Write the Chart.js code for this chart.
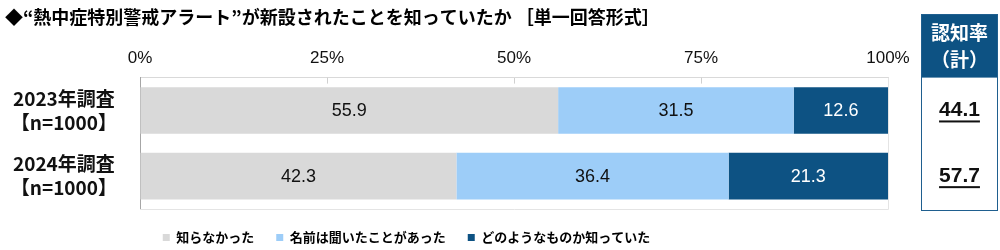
<!DOCTYPE html>
<html>
<head>
<meta charset="utf-8">
<script src="https://cdn.jsdelivr.net/npm/chart.js@4"></script>
<style>
  body { margin: 0; background: #fff; }
  #wrap { width: 1000px; height: 250px; }
</style>
</head>
<body>
<div id="wrap"><canvas id="chart" width="1000" height="250"></canvas></div>
<script>
const title = '◆“熱中症特別警戒アラート”が新設されたことを知っていたか ［単一回答形式］';
const years = [['2023年調査', '【n=1000】'], ['2024年調査', '【n=1000】']];
const seriesNames = ['知らなかった', '名前は聞いたことがあった', 'どのようなものか知っていた'];
const notKnown = [55.9, 42.3];
const heardName = [31.5, 36.4];
const knewWhat = [12.6, 21.3];
const awareness = [44.1, 57.7];
const panelHeader = ['認知率', '（計）'];

const colors = ['#d9d9d9', '#9dcdf8', '#0d5283'];
const jp = '"Noto Sans CJK JP", sans-serif';

// numbers inside the bars
const barLabels = {
  id: 'barLabels',
  afterDatasetsDraw(chart) {
    const ctx = chart.ctx;
    ctx.save();
    ctx.font = '18px "Liberation Sans", Arial, sans-serif';
    ctx.textAlign = 'center';
    ctx.textBaseline = 'middle';
    chart.data.datasets.forEach((ds, i) => {
      chart.getDatasetMeta(i).data.forEach((bar, j) => {
        ctx.fillStyle = i === 2 ? '#fff' : '#111';
        ctx.fillText(ds.data[j].toFixed(1), (bar.x + bar.base) / 2, bar.y + 1);
      });
    });
    ctx.restore();
  }
};

// light frame round the plot + the 認知率 panel on the right
const sidePanel = {
  id: 'sidePanel',
  afterDraw(chart) {
    const ctx = chart.ctx;
    const area = chart.chartArea;
    const y = chart.scales.y;
    ctx.save();
    ctx.strokeStyle = '#e4e4e4';
    ctx.lineWidth = 1;
    ctx.beginPath();
    ctx.moveTo(area.right + 0.5, area.top);
    ctx.lineTo(area.right + 0.5, area.bottom + 0.5);
    ctx.lineTo(area.left, area.bottom + 0.5);
    ctx.stroke();

    // inner tick marks on top axis
    const x = chart.scales.x;
    ctx.strokeStyle = '#d0d0d0';
    [25, 50, 75].forEach(v => {
      const px = Math.round(x.getPixelForValue(v)) + 0.5;
      ctx.beginPath();
      ctx.moveTo(px, area.top);
      ctx.lineTo(px, area.top + 6);
      ctx.stroke();
    });

    const left = 921, right = 998, top = 14, headBottom = area.top, bottom = area.bottom + 1;
    ctx.fillStyle = '#0d5283';
    ctx.fillRect(left, top, right - left, headBottom - top);
    ctx.strokeStyle = '#1f5f8f';
    ctx.strokeRect(left + 0.5, top + 0.5, right - left - 1, bottom - top);

    const cx = (left + right) / 2;
    ctx.fillStyle = '#fff';
    ctx.textAlign = 'center';
    ctx.textBaseline = 'middle';
    ctx.font = 'bold 19px ' + jp;
    ctx.fillText(panelHeader[0], cx, 33);
    ctx.fillText(panelHeader[1], cx, 60);

    ctx.fillStyle = '#111';
    ctx.font = 'bold 21px "Liberation Sans", Arial, sans-serif';
    awareness.forEach((v, i) => {
      const py = y.getPixelForValue(i);
      const t = v.toFixed(1);
      ctx.fillText(t, cx, py);
      const w = ctx.measureText(t).width;
      ctx.fillRect(cx - w / 2, py + 10, w, 2);
    });
    ctx.restore();
  }
};

// legend sits left of centre in the reference
const legendShift = {
  id: 'legendShift',
  afterLayout(chart) {
    chart.legend.left -= 40;
    chart.legend.right -= 40;
  }
};

new Chart(document.getElementById('chart'), {
  type: 'bar',
  data: {
    labels: years,
    datasets: [
      { label: seriesNames[0], data: notKnown, backgroundColor: colors[0] },
      { label: seriesNames[1], data: heardName, backgroundColor: colors[1] },
      { label: seriesNames[2], data: knewWhat, backgroundColor: colors[2] }
    ]
  },
  options: {
    indexAxis: 'y',
    responsive: false,
    animation: false,
    barPercentage: 0.71,
    categoryPercentage: 1,
    layout: { padding: { left: 5, right: 112, top: 0, bottom: -4 } },
    scales: {
      x: {
        position: 'top',
        stacked: true,
        min: 0,
        max: 100,
        ticks: {
          stepSize: 25,
          color: '#111',
          padding: 9,
          font: { size: 17, family: '"Liberation Sans", Arial, sans-serif' },
          callback: v => v + '%'
        },
        grid: { drawOnChartArea: false, drawTicks: false },
        border: { color: '#d9d9d9' },
        afterFit: s => { s.height = 50; }
      },
      y: {
        stacked: true,
        ticks: {
          color: '#111',
          crossAlign: 'center',
          padding: 15,
          font: { size: 19, weight: 'bold', family: jp, lineHeight: 1.26 }
        },
        grid: { display: false },
        border: { color: '#a6a6a6' },
        afterFit: s => { s.width = 135; }
      }
    },
    plugins: {
      title: {
        display: true,
        text: title,
        align: 'start',
        color: '#000',
        font: { size: 18, weight: 'bold', family: jp },
        padding: { top: 6, bottom: 0 }
      },
      legend: {
        position: 'bottom',
        labels: {
          boxWidth: 7,
          boxHeight: 7,
          padding: 22,
          color: '#000',
          font: { size: 13, weight: 'bold', family: jp }
        }
      },
      tooltip: { enabled: false }
    }
  },
  plugins: [barLabels, sidePanel, legendShift]
});
</script>
</body>
</html>
